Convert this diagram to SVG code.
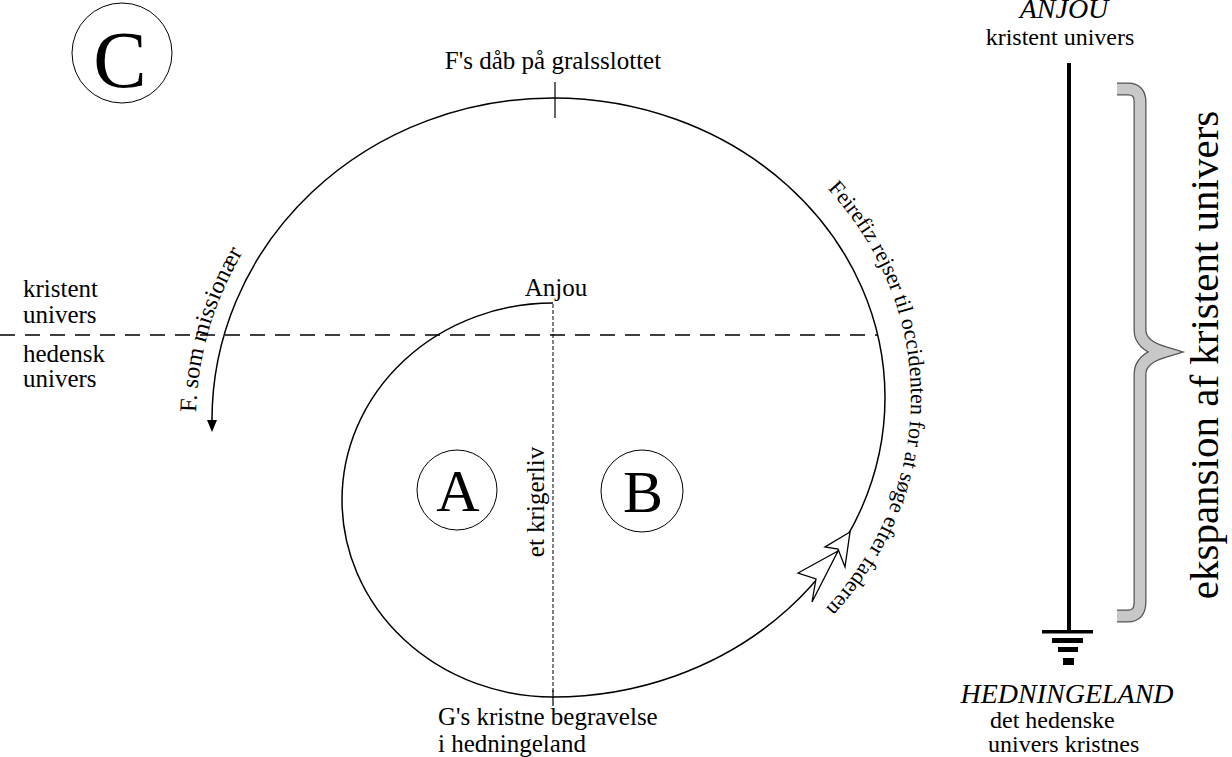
<svg xmlns="http://www.w3.org/2000/svg" width="1232" height="757" viewBox="0 0 1232 757">
<style>
text{font-family:"Liberation Serif","Times New Roman",serif;fill:#000}
.lbl{font-size:25px}
.sm{font-size:24px}
.it{font-style:italic}
.curve{fill:none;stroke:#000;stroke-width:1.5}
.dash{fill:none;stroke:#000;stroke-width:1.4;stroke-dasharray:15 10}
.vdash{fill:none;stroke:#000;stroke-width:1;stroke-dasharray:4 2}
.ring{fill:#fff;stroke:#000;stroke-width:1}
.big{font-size:60px;text-anchor:middle}
</style>
<defs>
<marker id="arr" markerUnits="userSpaceOnUse" markerWidth="14" markerHeight="12" refX="0" refY="5" orient="auto">
<path d="M0,0 L12,5 L0,10 z" fill="#000"/>
</marker>
<path id="tpRight" d="M783.1,148.2 A358,325.5 0 0 1 732,679.4"/>
<path id="tpLeft" d="M196,420 A357,338 0 0 1 553,82"/>
</defs>
<rect width="1232" height="757" fill="#fff"/>

<g id="connectors">
<line class="dash" x1="0" y1="335" x2="878" y2="335"/>
<line class="vdash" x1="553" y1="304" x2="553" y2="692"/>
<line x1="553" y1="690" x2="553" y2="706" stroke="#000" stroke-width="1.2"/>
<line x1="555" y1="82" x2="555" y2="118" stroke="#000" stroke-width="1.2"/>
<path class="curve" marker-end="url(#arr)" d="M553,303 A211,197 0 0 0 342,500 A211,197 0 0 0 553,697 A332,299.5 0 0 0 885,397.5 A332,299.5 0 0 0 553,98 A341,322 0 0 0 212,420"/>
<polygon points="850,532 825,547 838,549 845,567" fill="#fff" stroke="#000" stroke-width="1.3"/>
<polygon points="838,551 798,573 816,579 812,602" fill="#fff" stroke="#000" stroke-width="1.3"/>
</g>

<g id="node-C">
<circle class="ring" cx="122" cy="53" r="50"/>
<text x="120" y="87" style="font-size:80px;text-anchor:middle">C</text>
</g>
<g id="node-A">
<circle class="ring" cx="457" cy="490" r="40"/>
<text class="big" x="458" y="511">A</text>
</g>
<g id="node-B">
<circle class="ring" cx="642" cy="491" r="41"/>
<text class="big" x="643" y="512">B</text>
</g>

<g id="label-top">
<text class="lbl" x="553" y="69" text-anchor="middle">F's dåb på gralsslottet</text>
</g>
<g id="label-anjou">
<text class="lbl" x="556" y="296" text-anchor="middle">Anjou</text>
</g>
<g id="label-krigerliv">
<text class="lbl" transform="translate(544,502) rotate(-90)" text-anchor="middle">et krigerliv</text>
</g>
<g id="label-bottom">
<text class="lbl" x="438" y="725">G's kristne begravelse</text>
<text class="lbl" x="438" y="752">i hedningeland</text>
</g>
<g id="label-left">
<text class="lbl" x="23" y="297">kristent</text>
<text class="lbl" x="23" y="323">univers</text>
<text class="lbl" x="23" y="362">hedensk</text>
<text class="lbl" x="23" y="387">univers</text>
</g>
<g id="label-missionaer">
<text style="font-size:24px"><textPath href="#tpLeft" startOffset="8">F. som missionær</textPath></text>
</g>
<g id="label-feirefiz">
<text style="font-size:22px"><textPath href="#tpRight" startOffset="60">Feirefiz rejser til occidenten for at søge efter faderen</textPath></text>
</g>

<g id="axis">
<text class="it" x="1064" y="18" style="font-size:28px" text-anchor="middle">ANJOU</text>
<text class="sm" x="1060" y="45" text-anchor="middle">kristent univers</text>
<rect x="1067" y="63" width="4" height="569" fill="#000"/>
<rect x="1042" y="630" width="51" height="3.5" fill="#000"/>
<rect x="1052" y="638" width="31" height="5" fill="#000"/>
<rect x="1058" y="647" width="20" height="5" fill="#000"/>
<rect x="1063" y="658" width="11" height="7" fill="#000"/>
<text class="it" x="1067" y="703" style="font-size:28px" text-anchor="middle">HEDNINGELAND</text>
<text class="sm" x="990" y="728">det hedenske</text>
<text class="sm" x="988" y="752">univers kristnes</text>
</g>

<g id="brace">
<path d="M1117,89 L1128,89 Q1140,89 1140,102 L1140,330 Q1140,345 1163,352 Q1140,359 1140,374 L1140,602 Q1140,616 1128,616 L1117,616" fill="none" stroke="#555" stroke-width="13"/>
<path d="M1117,89 L1128,89 Q1140,89 1140,102 L1140,330 Q1140,345 1163,352 Q1140,359 1140,374 L1140,602 Q1140,616 1128,616 L1117,616" fill="none" stroke="#c8c8c8" stroke-width="10.5"/>
<text transform="translate(1218,355) rotate(-90)" style="font-size:41px" text-anchor="middle">ekspansion af kristent univers</text>
</g>
</svg>
